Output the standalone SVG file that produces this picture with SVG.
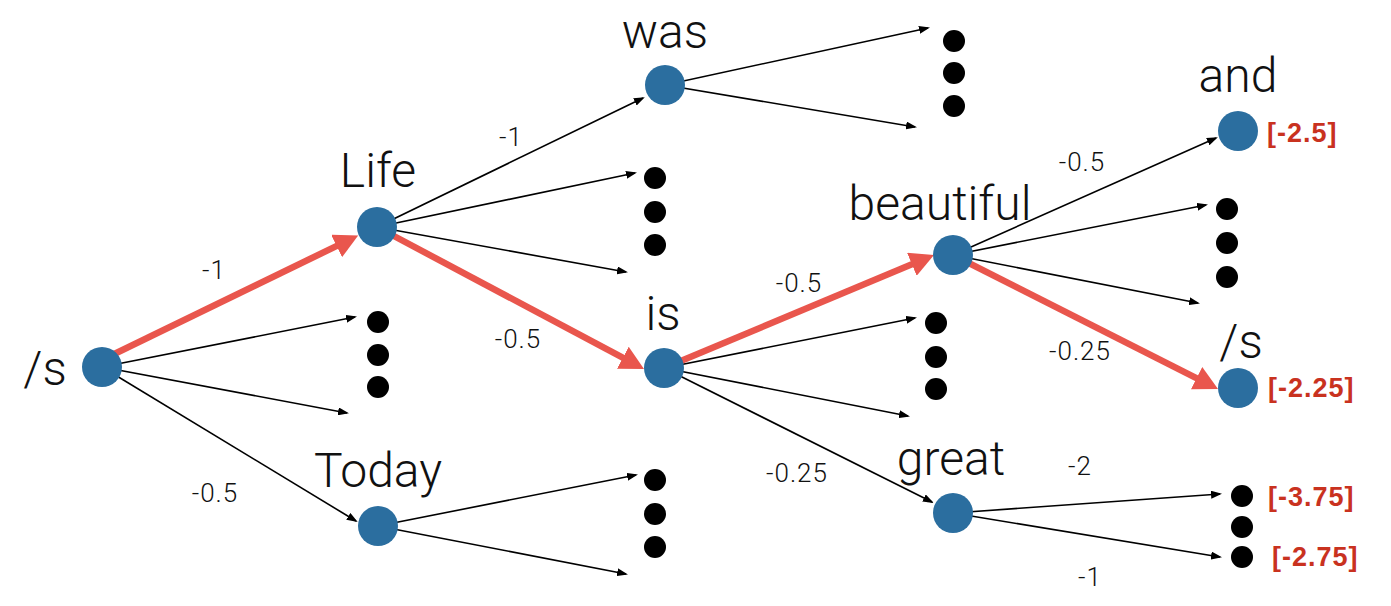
<svg xmlns="http://www.w3.org/2000/svg" width="1391" height="606" viewBox="0 0 1391 606">
<style>
.node{fill:#2b6e9f}
.dot{fill:#000}
.w{font-family:Roboto,"Liberation Sans",Arial,sans-serif;font-weight:300;font-size:48px;fill:#111;text-anchor:middle}
.e{font-family:Roboto,"Liberation Sans",Arial,sans-serif;font-weight:300;font-size:26px;fill:#111;text-anchor:middle;letter-spacing:1px}
.r{font-family:"Liberation Sans",Arial,sans-serif;font-size:27px;font-weight:bold;fill:#c9321f;letter-spacing:1px}
.thin{stroke:#000;stroke-width:1.6;fill:none;marker-end:url(#ah)}
.red{stroke:#e9564d;stroke-width:6.5;fill:none;marker-end:url(#rh)}
</style>
<defs>
<marker id="ah" markerUnits="userSpaceOnUse" markerWidth="12" markerHeight="8" refX="9" refY="4" orient="auto"><path d="M0,0 L11,4 L0,8 z" fill="#000"/></marker>
<marker id="rh" markerUnits="userSpaceOnUse" markerWidth="25" markerHeight="25" refX="2" refY="12.5" orient="auto"><path d="M0,0 L24,12.5 L0,25 z" fill="#e9564d"/></marker>
</defs>
<rect width="1391" height="606" fill="#fff"/>
<g id="connectors">
<line class="thin" x1="102" y1="367" x2="355" y2="317"/>
<line class="thin" x1="102" y1="367" x2="347" y2="413"/>
<line class="thin" x1="102" y1="367" x2="356" y2="521"/>
<line class="thin" x1="377" y1="227" x2="643" y2="98"/>
<line class="thin" x1="377" y1="227" x2="635" y2="173"/>
<line class="thin" x1="377" y1="227" x2="626" y2="272"/>
<line class="thin" x1="665" y1="85" x2="928" y2="28"/>
<line class="thin" x1="665" y1="85" x2="915" y2="127"/>
<line class="thin" x1="378" y1="526" x2="636" y2="475"/>
<line class="thin" x1="378" y1="526" x2="626" y2="574"/>
<line class="thin" x1="664" y1="368" x2="915" y2="318"/>
<line class="thin" x1="664" y1="368" x2="908" y2="416"/>
<line class="thin" x1="664" y1="368" x2="932" y2="502"/>
<line class="thin" x1="953" y1="255" x2="1216" y2="138"/>
<line class="thin" x1="953" y1="255" x2="1206" y2="205"/>
<line class="thin" x1="953" y1="255" x2="1198" y2="303"/>
<line class="thin" x1="953" y1="513" x2="1220" y2="494"/>
<line class="thin" x1="953" y1="513" x2="1220" y2="557"/>
<line class="red" x1="106" y1="358" x2="338.4" y2="245.1"/>
<line class="red" x1="377" y1="227" x2="624.6" y2="358.7"/>
<line class="red" x1="664" y1="368" x2="913.7" y2="263.5"/>
<line class="red" x1="953" y1="255" x2="1198.4" y2="379.1"/>
</g>
<g id="n-start"><circle class="node" cx="102" cy="367" r="20"/><text class="w" x="45" y="385">/s</text></g>
<g id="n-life"><circle class="node" cx="377" cy="227" r="20"/><text class="w" x="378" y="187">Life</text></g>
<g id="n-today"><circle class="node" cx="378" cy="526" r="20"/><text class="w" x="378" y="487">Today</text></g>
<g id="n-was"><circle class="node" cx="665" cy="85" r="20"/><text class="w" x="665" y="48">was</text></g>
<g id="n-is"><circle class="node" cx="664" cy="368" r="20"/><text class="w" x="663" y="330">is</text></g>
<g id="n-beautiful"><circle class="node" cx="953" cy="255" r="20"/><text class="w" x="940" y="220">beautiful</text></g>
<g id="n-great"><circle class="node" cx="953" cy="513" r="20"/><text class="w" x="951" y="475">great</text></g>
<g id="n-and"><circle class="node" cx="1238" cy="131" r="20"/><text class="w" x="1238" y="92">and</text><text class="r" x="1267" y="142">[-2.5]</text></g>
<g id="n-end"><circle class="node" cx="1238" cy="388" r="20"/><text class="w" x="1241" y="358">/s</text><text class="r" x="1268" y="397">[-2.25]</text></g>
<g id="dots-start"><circle class="dot" cx="378" cy="322" r="11"/><circle class="dot" cx="378" cy="355" r="11"/><circle class="dot" cx="378" cy="387" r="11"/></g>
<g id="dots-life"><circle class="dot" cx="655" cy="178" r="11"/><circle class="dot" cx="655" cy="212" r="11"/><circle class="dot" cx="655" cy="245" r="11"/></g>
<g id="dots-was"><circle class="dot" cx="954" cy="41" r="11"/><circle class="dot" cx="954" cy="73" r="11"/><circle class="dot" cx="954" cy="106" r="11"/></g>
<g id="dots-today"><circle class="dot" cx="655" cy="480" r="11"/><circle class="dot" cx="655" cy="514" r="11"/><circle class="dot" cx="655" cy="547" r="11"/></g>
<g id="dots-is"><circle class="dot" cx="936" cy="323" r="11"/><circle class="dot" cx="936" cy="357" r="11"/><circle class="dot" cx="936" cy="389" r="11"/></g>
<g id="dots-beautiful"><circle class="dot" cx="1227" cy="209" r="11"/><circle class="dot" cx="1227" cy="243" r="11"/><circle class="dot" cx="1227" cy="277" r="11"/></g>
<g id="dots-great"><circle class="dot" cx="1242" cy="496" r="11"/><circle class="dot" cx="1242" cy="527" r="11"/><circle class="dot" cx="1242" cy="557" r="11"/><text class="r" x="1268" y="506">[-3.75]</text><text class="r" x="1272" y="566">[-2.75]</text></g>
<g id="edge-labels">
<text class="e" x="214" y="279">-1</text>
<text class="e" x="215" y="502">-0.5</text>
<text class="e" x="511" y="146">-1</text>
<text class="e" x="518" y="348">-0.5</text>
<text class="e" x="799" y="292">-0.5</text>
<text class="e" x="797" y="482">-0.25</text>
<text class="e" x="1082" y="171">-0.5</text>
<text class="e" x="1080" y="360">-0.25</text>
<text class="e" x="1080" y="475">-2</text>
<text class="e" x="1090" y="586">-1</text>
</g>
</svg>
